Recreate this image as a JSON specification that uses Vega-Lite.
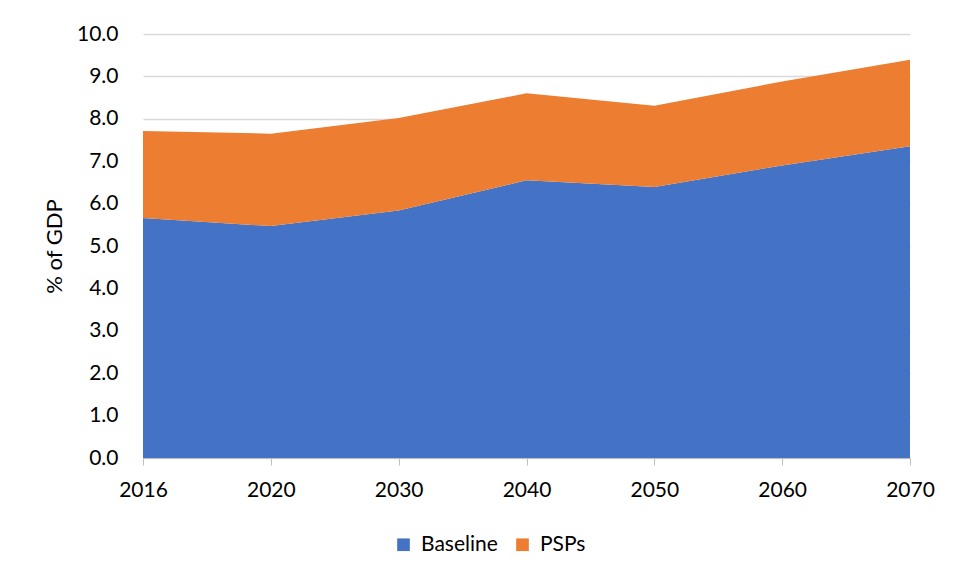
{
  "$schema": "https://vega.github.io/schema/vega-lite/v6.json",
  "width": 767,
  "height": 424,
  "autosize": "none",
  "padding": {"left": 143, "top": 34, "right": 53, "bottom": 121},
  "background": "white",
  "config": {
    "font": "Lato",
    "view": {"stroke": null}
  },
  "data": {
    "values": [
      {"year": "2016", "series": "Baseline", "value": 5.66},
      {"year": "2020", "series": "Baseline", "value": 5.47},
      {"year": "2030", "series": "Baseline", "value": 5.84},
      {"year": "2040", "series": "Baseline", "value": 6.55},
      {"year": "2050", "series": "Baseline", "value": 6.39},
      {"year": "2060", "series": "Baseline", "value": 6.9},
      {"year": "2070", "series": "Baseline", "value": 7.35},
      {"year": "2016", "series": "PSPs", "value": 2.05},
      {"year": "2020", "series": "PSPs", "value": 2.18},
      {"year": "2030", "series": "PSPs", "value": 2.18},
      {"year": "2040", "series": "PSPs", "value": 2.05},
      {"year": "2050", "series": "PSPs", "value": 1.92},
      {"year": "2060", "series": "PSPs", "value": 1.98},
      {"year": "2070", "series": "PSPs", "value": 2.04}
    ]
  },
  "mark": {"type": "area", "opacity": 1},
  "encoding": {
    "x": {
      "field": "year",
      "type": "ordinal",
      "scale": {"type": "point", "padding": 0},
      "axis": {
        "title": null,
        "labelAngle": 0,
        "labelFontSize": 21,
        "labelColor": "#000000",
        "labelPadding": 14,
        "domainColor": "#bfbfbf",
        "tickColor": "#bfbfbf",
        "tickSize": 7,
        "grid": false
      }
    },
    "y": {
      "field": "value",
      "type": "quantitative",
      "stack": "zero",
      "scale": {"domain": [0, 10], "nice": false},
      "axis": {
        "title": "% of GDP",
        "titleFontSize": 22,
        "titleFontWeight": "normal",
        "titleColor": "#000000",
        "titlePadding": 10,
        "values": [0, 1, 2, 3, 4, 5, 6, 7, 8, 9, 10],
        "format": ".1f",
        "labelFontSize": 21,
        "labelColor": "#000000",
        "labelPadding": 25,
        "ticks": false,
        "domain": false,
        "grid": true,
        "gridColor": "#d9d9d9",
        "gridWidth": 1.5
      }
    },
    "color": {
      "field": "series",
      "type": "nominal",
      "scale": {"domain": ["Baseline", "PSPs"], "range": ["#4472C4", "#ED7D31"]},
      "legend": {
        "title": null,
        "orient": "none",
        "direction": "horizontal",
        "legendX": 250,
        "legendY": 500,
        "symbolType": "square",
        "symbolSize": 160,
        "symbolStrokeWidth": 0,
        "labelFontSize": 21,
        "labelColor": "#000000",
        "columnPadding": 14,
        "labelOffset": 7
      }
    },
    "order": {"field": "series", "sort": "ascending"}
  }
}
